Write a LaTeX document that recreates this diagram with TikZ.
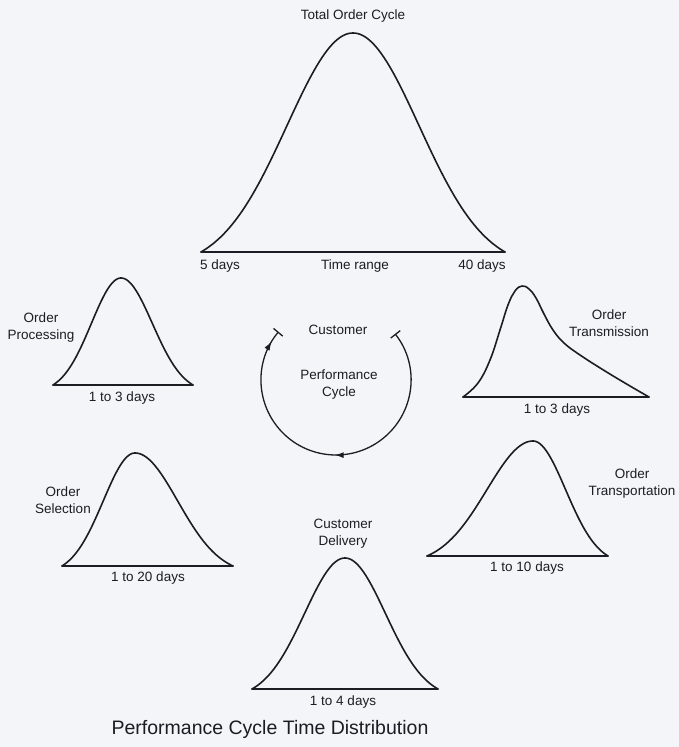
\documentclass[tikz,border=0pt]{standalone}
\usepackage{fontspec}
\setmainfont{Liberation Sans}
\usetikzlibrary{arrows.meta,decorations.markings}
\definecolor{bg}{RGB}{244,245,249}
\definecolor{ink}{RGB}{28,28,36}
\newcommand\drawbell[5]{% left, peak, right, baseline, height
  \pgfmathsetmacro\sLft{(#2-#1)/2.3}%
  \pgfmathsetmacro\sRgt{(#3-#2)/2.3}%
  \pgfmathsetmacro\eOff{exp(-0.5*2.3*2.3)}%
  \draw[curve] plot[domain=#1:#2,samples=60] (\x,{#4-#5*(exp(-0.5*((\x-#2)/\sLft)*((\x-#2)/\sLft))-\eOff)/(1-\eOff)})
    -- plot[domain=#2:#3,samples=60] (\x,{#4-#5*(exp(-0.5*((\x-#2)/\sRgt)*((\x-#2)/\sRgt))-\eOff)/(1-\eOff)});
  \draw[curve] (#1,#4) -- (#3,#4);
}
\begin{document}
\begin{tikzpicture}[x=1pt,y=-1pt,
  curve/.style={ink,line width=1.6pt,line join=round,line cap=round},
  lbl/.style={text=ink,font=\fontsize{13.5}{17}\selectfont,inner sep=0pt,align=center},
  cyc/.style={ink,line width=1.3pt,{Bar[width=12pt,line width=1.3pt]}-{Bar[width=12pt,line width=1.3pt]},
    postaction={decorate},
    decoration={markings,
      mark=at position 0.5 with {\arrow{Latex[length=9pt,width=6pt]}},
      mark=at position 0.965 with {\arrow{Latex[length=9pt,width=6pt]}}}}]
\fill[bg] (0,0) rectangle (679,747);
\useasboundingbox (0,0) rectangle (679,747);

% Total order cycle
\drawbell{201}{353}{505}{252}{219}
\node[lbl] (title) at (353,16) {Total Order Cycle};
\node[lbl] (d5) at (220,266) {5 days};
\node[lbl] (trange) at (355,266) {Time range};
\node[lbl] (d40) at (482,266) {40 days};

% Order processing
\drawbell{53}{121}{193}{385}{107}
\node[lbl] (op) at (41,328) {Order\\Processing};
\node[lbl] (opr) at (122,398) {1 to 3 days};

% Order transmission
\draw[curve] plot[smooth,tension=0.7] coordinates {(463,397) (478,383) (490,360) (500,330) (508,305) (515,291) (522,286) (529,289) (536,298) (544,314) (553,330) (564,343) (580,355) (605,371) (630,386) (649,397)};
\draw[curve] (463,397) -- (649,397);
\node[lbl] (ot) at (609,323) {Order\\Transmission};
\node[lbl] (otr) at (557,410) {1 to 3 days};

% Order selection
\drawbell{62}{135}{233}{566}{113}
\node[lbl] (os) at (63,500) {Order\\Selection};
\node[lbl] (osr) at (148,578) {1 to 20 days};

% Order transportation
\drawbell{427}{533}{608}{556}{115}
\node[lbl] (otp) at (632,484) {Order\\Transportation};
\node[lbl] (otpr) at (527,568) {1 to 10 days};

% Customer delivery
\drawbell{252}{345}{438}{689}{131}
\node[lbl] (cd) at (343,534) {Customer\\Delivery};
\node[lbl] (cdr) at (343,702) {1 to 4 days};

% Customer performance cycle
\coordinate (cc) at (336,380);
\draw[cyc] (cc) ++(-38:75) arc[start angle=-38, end angle=220, radius=75];
\node[lbl] (cust) at (338,330) {Customer};
\node[lbl] (perf) at (339,385) {Performance\\Cycle};

% footer
\node[text=ink,font=\fontsize{19.5}{22}\selectfont,inner sep=0pt] (foot) at (270,729) {Performance Cycle Time Distribution};
\end{tikzpicture}
\end{document}
